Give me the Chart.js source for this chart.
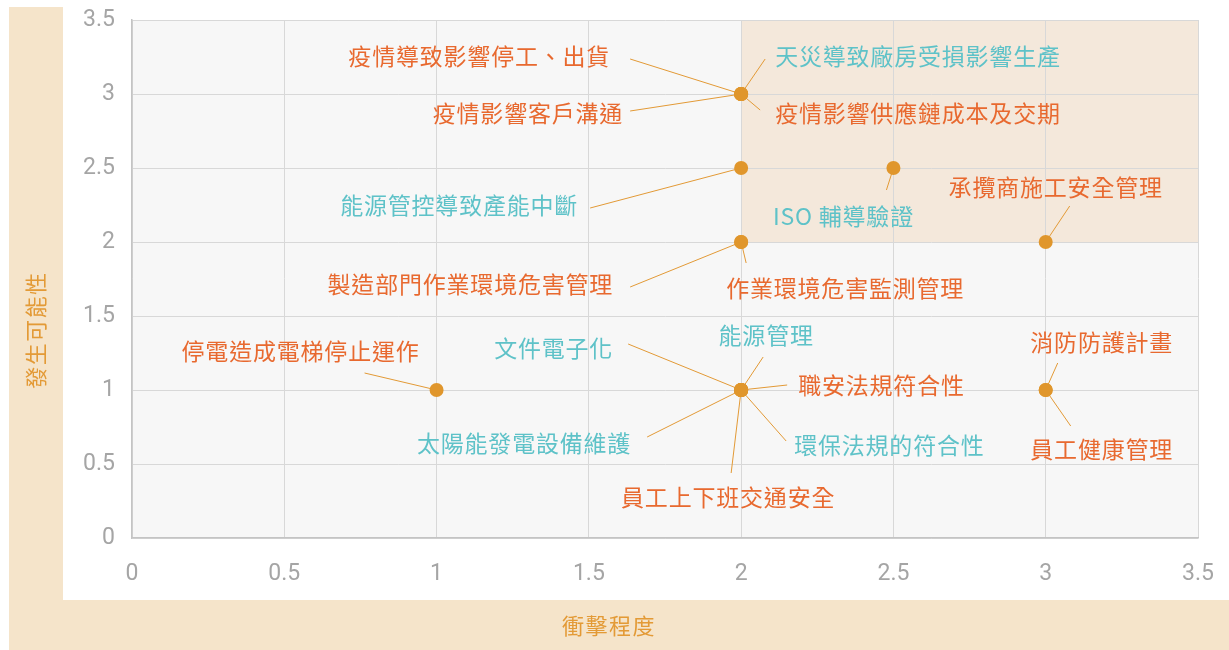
<!DOCTYPE html>
<html>
<head>
<meta charset="utf-8">
<script src="https://cdn.jsdelivr.net/npm/chart.js@4"></script>
<style>
  html, body { margin: 0; padding: 0; background: #fff; }
  #wrap { width: 1229px; height: 650px; }
</style>
</head>
<body>
<div id="wrap"><canvas id="risk"></canvas></div>
<script>
// risk items: impact (x) vs likelihood (y)
const riskNames = [
  "疫情導致影響停工、出貨",
  "疫情影響客戶溝通",
  "天災導致廠房受損影響生產",
  "疫情影響供應鏈成本及交期",
  "能源管控導致產能中斷",
  "ISO 輔導驗證",
  "承攬商施工安全管理",
  "製造部門作業環境危害管理",
  "作業環境危害監測管理",
  "停電造成電梯停止運作",
  "文件電子化",
  "能源管理",
  "職安法規符合性",
  "環保法規的符合性",
  "太陽能發電設備維護",
  "員工上下班交通安全",
  "消防防護計畫",
  "員工健康管理"
];
const impact     = [2, 2, 2, 2, 2, 2.5, 3, 2, 2, 1, 2, 2, 2, 2, 2, 2, 3, 3];
const likelihood = [3, 3, 3, 3, 2.5, 2.5, 2, 2, 2, 1, 1, 1, 1, 1, 1, 1, 1, 1];
const axisTicks  = [0, 0.5, 1, 1.5, 2, 2.5, 3, 3.5];

const ORANGE = "#e8692f";
const TEAL = "#5ec2c8";

// label placement relative to each point: text anchor (dx, dy), align, leader end (lx, ly)
const labelLayout = [
  { dx: -131, dy: -38, align: "right",  lx: -111, ly: -35, color: ORANGE },
  { dx: -118, dy: 19,  align: "right",  lx: -111, ly: 17,  color: ORANGE },
  { dx: 34,   dy: -38, align: "left",   lx: 24,   ly: -35, color: TEAL },
  { dx: 34,   dy: 19,  align: "left",   lx: 19,   ly: 16,  color: ORANGE },
  { dx: -163, dy: 37,  align: "right",  lx: -151, ly: 40,  color: TEAL },
  { dx: -50,  dy: 48,  align: "center", lx: -7,   ly: 22,  color: TEAL },
  { dx: 10,   dy: -55, align: "center", lx: 24,   ly: -36, color: ORANGE },
  { dx: -128, dy: 42,  align: "right",  lx: -111, ly: 45,  color: ORANGE },
  { dx: 104,  dy: 46,  align: "center", lx: 5,    ly: 21,  color: ORANGE },
  { dx: -17,  dy: -39, align: "right",  lx: -72,  ly: -17, color: ORANGE },
  { dx: -128, dy: -42, align: "right",  lx: -113, ly: -46, color: TEAL },
  { dx: 25,   dy: -55, align: "center", lx: 22,   ly: -33, color: TEAL },
  { dx: 57,   dy: -5,  align: "left",   lx: 46,   ly: -5,  color: ORANGE },
  { dx: 53,   dy: 55,  align: "left",   lx: 45,   ly: 51,  color: TEAL },
  { dx: -110, dy: 53,  align: "right",  lx: -94,  ly: 47,  color: TEAL },
  { dx: -13,  dy: 107, align: "center", lx: -10,  ly: 83,  color: ORANGE },
  { dx: 56,   dy: -48, align: "center", lx: 12,   ly: -27, color: ORANGE },
  { dx: 56,   dy: 59,  align: "center", lx: 25,   ly: 36,  color: ORANGE }
];

const CJK = '"Noto Sans CJK TC", "Noto Sans CJK SC", sans-serif';

const backdrop = {
  id: "backdrop",
  beforeDraw(chart) {
    const { ctx, chartArea: a, scales: { x, y } } = chart;
    ctx.save();
    // side bands holding the axis titles
    ctx.fillStyle = "#f5e4ca";
    ctx.fillRect(9, 7, 54, 643);
    ctx.fillRect(9, 600, 1220, 50);
    // plot area
    ctx.fillStyle = "#f7f7f7";
    ctx.fillRect(a.left, a.top, a.right - a.left, a.bottom - a.top);
    // high impact / high likelihood zone
    const x0 = x.getPixelForValue(2), y0 = y.getPixelForValue(2);
    ctx.fillStyle = "#f4e8db";
    ctx.fillRect(x0, a.top, a.right - x0, y0 - a.top);
    ctx.restore();
  },
  afterDraw(chart) {
    const { ctx } = chart;
    ctx.save();
    ctx.fillStyle = "#e39a36";
    ctx.font = "22px " + CJK;
    ctx.letterSpacing = "1.5px";
    ctx.textAlign = "center";
    ctx.textBaseline = "middle";
    ctx.fillText("衝擊程度", 609, 626);
    ctx.translate(36, 330);
    ctx.rotate(-Math.PI / 2);
    ctx.fillText("發生可能性", 0, 0);
    ctx.restore();
  }
};

const riskLabels = {
  id: "riskLabels",
  beforeDatasetsDraw(chart) {
    const { ctx } = chart;
    const pts = chart.getDatasetMeta(0).data;
    ctx.save();
    ctx.strokeStyle = "#e39a36";
    ctx.lineWidth = 1;
    pts.forEach((p, i) => {
      const l = labelLayout[i];
      ctx.beginPath();
      ctx.moveTo(p.x, p.y);
      ctx.lineTo(p.x + l.lx, p.y + l.ly);
      ctx.stroke();
    });
    ctx.restore();
  },
  afterDatasetsDraw(chart) {
    const { ctx } = chart;
    const pts = chart.getDatasetMeta(0).data;
    ctx.save();
    ctx.font = "23px " + CJK;
    ctx.letterSpacing = "0.8px";
    ctx.textBaseline = "middle";
    pts.forEach((p, i) => {
      const l = labelLayout[i];
      ctx.fillStyle = l.color;
      ctx.textAlign = l.align;
      ctx.fillText(riskNames[i], p.x + l.dx, p.y + l.dy);
    });
    ctx.restore();
  }
};

const tickStyle = {
  color: "#a5a5a5",
  font: { family: "Roboto", size: 23 },
  callback: v => String(v)
};

function fixTicks(s) {
  s.ticks = axisTicks.map(v => ({ value: v }));
}

new Chart(document.getElementById("risk"), {
  type: "scatter",
  data: {
    datasets: [{
      data: riskNames.map((n, i) => ({ x: impact[i], y: likelihood[i] })),
      backgroundColor: "#e0962c",
      borderWidth: 0,
      pointRadius: 7,
      pointHoverRadius: 7
    }]
  },
  options: {
    responsive: true,
    maintainAspectRatio: false,
    animation: false,
    layout: { padding: { top: 20, right: 31, left: 0, bottom: 0 } },
    plugins: {
      legend: { display: false },
      tooltip: { enabled: false }
    },
    scales: {
      x: {
        min: 0,
        max: 3.5,
        afterBuildTicks: fixTicks,
        afterFit(s) { s.height = 112; s.paddingLeft = 0; s.paddingRight = 0; },
        grid: { color: "#d8d8d8", drawTicks: false },
        border: { color: "#c4c4c4", width: 1.5 },
        ticks: { ...tickStyle, padding: 22 }
      },
      y: {
        min: 0,
        max: 3.5,
        afterBuildTicks: fixTicks,
        afterFit(s) { s.width = 132; s.paddingTop = 0; s.paddingBottom = 0; },
        grid: { color: "#d8d8d8", drawTicks: false },
        border: { color: "#c4c4c4", width: 1.5 },
        ticks: { ...tickStyle, padding: 17 }
      }
    }
  },
  plugins: [backdrop, riskLabels]
});
</script>
</body>
</html>
